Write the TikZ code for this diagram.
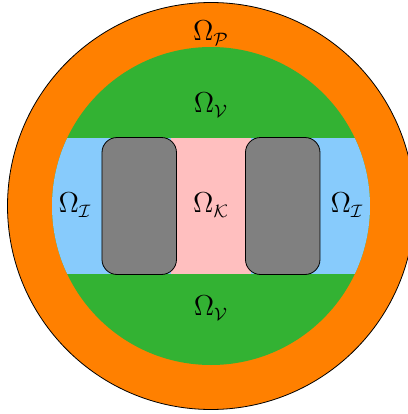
\documentclass[tikz,border=0pt]{standalone}
\usepackage{tikz}
\usetikzlibrary{positioning}
\usepackage{amsmath}
\usepackage{amssymb}
\definecolor{porange}{HTML}{FF8000}
\definecolor{vgreen}{HTML}{33B233}
\definecolor{iblue}{HTML}{87CBFC}
\definecolor{kpink}{HTML}{FFBFBF}
\definecolor{coregray}{HTML}{808080}
\tikzset{
  region/.style={font=\fontsize{13.5}{16}\selectfont, inner sep=0pt},
  core/.style  ={draw=black, fill=coregray, rounded corners=7.5pt}
}

\begin{document}
\begin{tikzpicture}[x=0.5pt, y=0.5pt]
  \useasboundingbox (-211,-208) rectangle (197,206);
  \clip (-211,-208) rectangle (197,206);
  % outer ring
  \draw[fill=porange] (0,0) circle[radius=203.5];
  % inner disc
  \begin{scope}
    \clip (0,0) circle[radius=159];
    \fill[vgreen] (-160,-160) rectangle (160,160);
    \fill[iblue] (-160,-68) rectangle (160,68);
  \end{scope}
  \fill[kpink] (-40,-68) rectangle (40,68);
  % cores
  \draw[core] (-109,-68.5) rectangle (-34.5,68.5);
  \draw[core] (34.5,-68.5) rectangle (109,68.5);
  % labels
  \node[region] (omp)  at (0,173)   {$\Omega_{\mathcal{P}}$};
  \node[region] (omvt) at (0,101)   {$\Omega_{\mathcal{V}}$};
  \node[region] (omvb) at (0,-102)  {$\Omega_{\mathcal{V}}$};
  \node[region] (omk)  at (0,1)     {$\Omega_{\mathcal{K}}$};
  \node[region] (omil) at (-136,1)  {$\Omega_{\mathcal{I}}$};
  \node[region] (omir) at (136,1)   {$\Omega_{\mathcal{I}}$};
\end{tikzpicture}
\end{document}
